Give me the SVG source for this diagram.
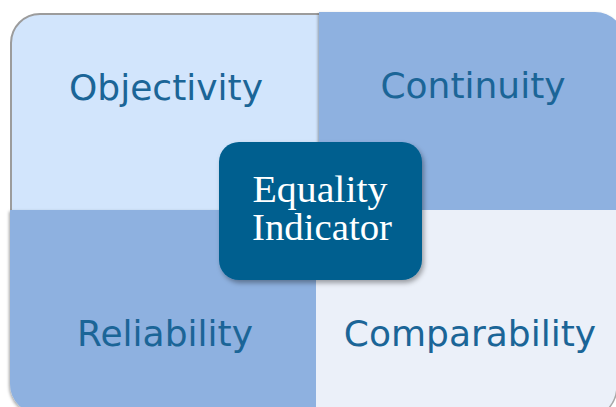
<svg xmlns="http://www.w3.org/2000/svg" width="616" height="407" viewBox="0 0 616 407">
  <defs>
    <filter id="soft" x="-10%" y="-10%" width="120%" height="120%">
      <feDropShadow dx="-1" dy="1.5" stdDeviation="1.5" flood-color="#000" flood-opacity="0.35"/>
    </filter>
    <filter id="lift" x="-10%" y="-10%" width="125%" height="125%">
      <feDropShadow dx="2" dy="3" stdDeviation="2.5" flood-color="#000" flood-opacity="0.35"/>
    </filter>
    <style>
      .quad-label { font-family: "DejaVu Sans", Verdana, sans-serif; font-size: 36px; fill: #1B6597; text-anchor: middle; }
      .core-label { font-family: "Liberation Serif", "Times New Roman", serif; font-size: 37px; fill: #FFFFFF; text-anchor: middle; }
      .edge { fill: none; stroke: #9C9C9C; stroke-width: 2; }
    </style>
  </defs>

  <rect width="616" height="407" fill="#FFFFFF"/>

  <!-- top-left quadrant -->
  <g id="objectivity">
    <path d="M11,210 V43 A29,29 0 0 1 40,14 H319 V210 Z" fill="#D2E5FC"/>
    <path class="edge" d="M11,210 V43 A29,29 0 0 1 40,14 H319"/>
    <text class="quad-label" x="166" y="100">Objectivity</text>
  </g>

  <!-- top-right quadrant -->
  <g id="continuity">
    <path d="M319,12 H595 A30,30 0 0 1 625,42 V210 H319 Z" fill="#8EB1E0" filter="url(#soft)"/>
    <text class="quad-label" x="473" y="98">Continuity</text>
  </g>

  <!-- bottom-left quadrant -->
  <g id="reliability">
    <path d="M10,210 H316 V414 H40 A30,30 0 0 1 10,384 Z" fill="#8EB1E0" filter="url(#soft)"/>
    <text class="quad-label" x="165" y="346">Reliability</text>
  </g>

  <!-- bottom-right quadrant -->
  <g id="comparability">
    <path d="M316,210 H617 V386 A34,34 0 0 1 583,420 H316 Z" fill="#EBF0F9"/>
    <path d="M617,370 V386 A34,34 0 0 1 583,420" fill="none" stroke="#A8A8A8" stroke-width="1.5"/>
    <text class="quad-label" x="470" y="346">Comparability</text>
  </g>

  <!-- central box -->
  <g id="equality-indicator">
    <rect x="219" y="142" width="203" height="138" rx="20" ry="20" fill="#005F8F" filter="url(#lift)"/>
    <text class="core-label" x="320" y="202" textLength="135" lengthAdjust="spacingAndGlyphs">Equality</text>
    <text class="core-label" x="322" y="240" textLength="140" lengthAdjust="spacingAndGlyphs">Indicator</text>
  </g>
</svg>
